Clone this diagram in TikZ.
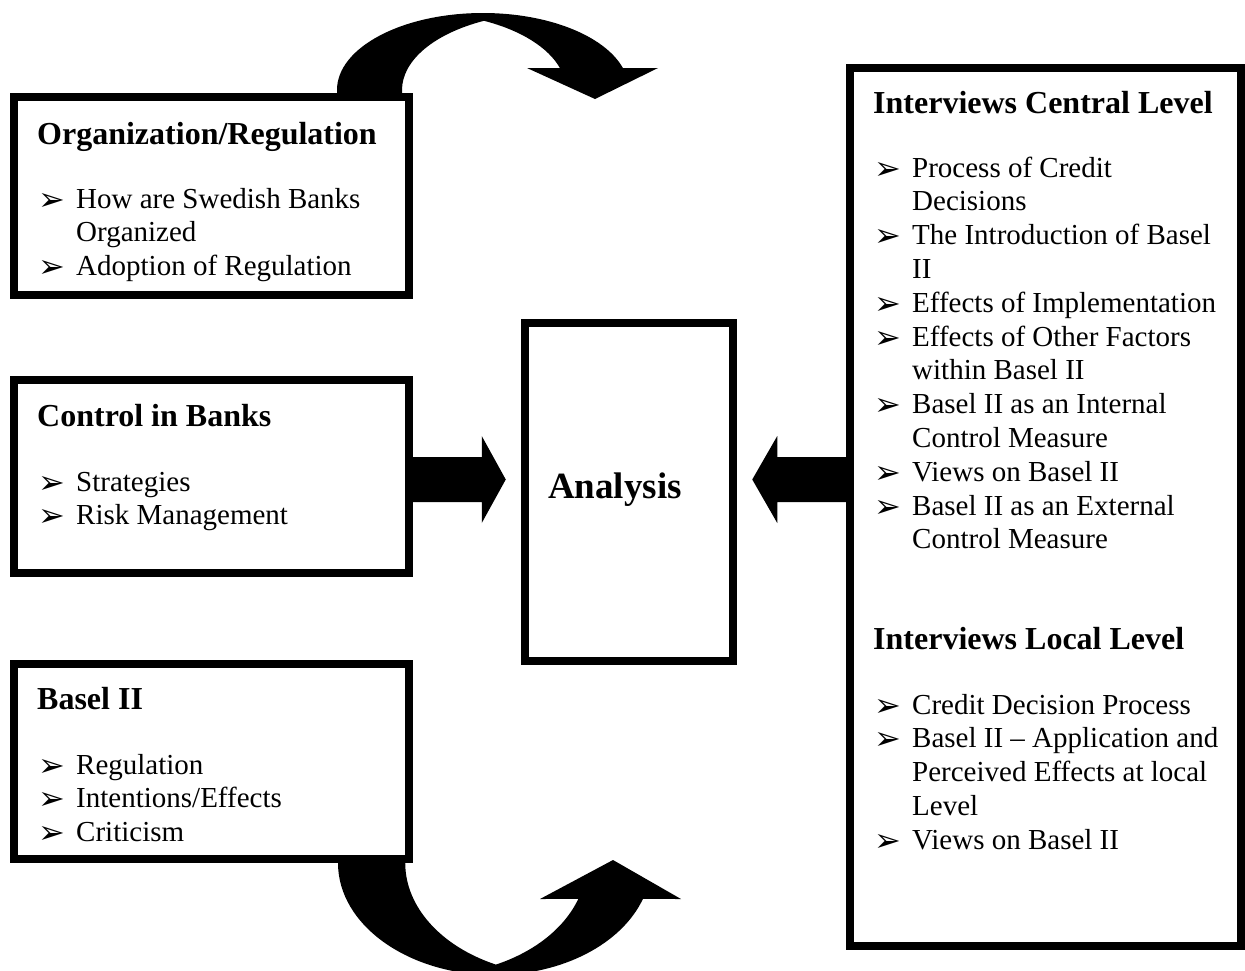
\documentclass[tikz,border=0pt]{standalone}
\usepackage{fontspec}
\setmainfont{Liberation Serif}
\newfontfamily\dejavu{DejaVu Sans}
\usetikzlibrary{calc}
\newcommand{\bulmark}{\raisebox{-2pt}{\dejavu\fontsize{32}{32}\selectfont ➢}}
\newcommand{\bitem}[1]{\makebox[38pt][l]{\bulmark}#1}
\begin{document}
\begin{tikzpicture}[x=1pt,y=-1pt,
  box/.style={draw, line width=7.5pt, inner sep=0pt, rectangle},
  hd/.style={anchor=base west, inner sep=0pt, font=\fontsize{32}{38}\selectfont\bfseries},
  tx/.style={anchor=base west, inner sep=0pt, font=\fontsize{29}{34}\selectfont},
  big/.style={anchor=base west, inner sep=0pt, font=\fontsize{37}{44}\selectfont\bfseries}]
\useasboundingbox (0,0) rectangle (1245,970);
\fill[white] (0,0) rectangle (1245,970);

% boxes
\node[box, minimum width=395pt, minimum height=198pt] (org) at (211.5,196) {};
\node[box, minimum width=395pt, minimum height=193pt] (ctrl) at (211.5,476.5) {};
\node[box, minimum width=395pt, minimum height=195pt] (basel) at (211.5,761.5) {};
\node[box, minimum width=208pt, minimum height=338pt] (ana) at (629,492) {};
\node[box, minimum width=391pt, minimum height=878pt] (intv) at (1045.5,507) {};

% box 1
\node[hd] (orgh) at (37,144) {Organization/Regulation};
\node[tx] (org1) at (38,208) {\bitem{How are Swedish Banks}};
\node[tx] (org1b) at (76,241.8) {Organized};
\node[tx] (org2) at (38,275.6) {\bitem{Adoption of Regulation}};

% box 2
\node[hd] (ctrlh) at (37,426) {Control in Banks};
\node[tx] (ctrl1) at (38,491) {\bitem{Strategies}};
\node[tx] (ctrl2) at (38,524.8) {\bitem{Risk Management}};

% box 3
\node[hd] (baselh) at (37,709) {Basel II};
\node[tx] (basel1) at (38,774) {\bitem{Regulation}};
\node[tx] (basel2) at (38,807.8) {\bitem{Intentions/Effects}};
\node[tx] (basel3) at (38,841.6) {\bitem{Criticism}};

% analysis
\node[big] (anat) at (548,498) {Analysis};

% right box
\node[hd] (ch) at (873,113) {Interviews Central Level};
\node[tx] (c1) at (874,177) {\bitem{Process of Credit}};
\node[tx] (c1b) at (912,210.8) {Decisions};
\node[tx] (c2) at (874,244.6) {\bitem{The Introduction of Basel}};
\node[tx] (c2b) at (912,278.4) {II};
\node[tx] (c3) at (874,312.2) {\bitem{Effects of Implementation}};
\node[tx] (c4) at (874,346) {\bitem{Effects of Other Factors}};
\node[tx] (c4b) at (912,379.8) {within Basel II};
\node[tx] (c5) at (874,413.6) {\bitem{Basel II as an Internal}};
\node[tx] (c5b) at (912,447.4) {Control Measure};
\node[tx] (c6) at (874,481.2) {\bitem{Views on Basel II}};
\node[tx] (c7) at (874,515) {\bitem{Basel II as an External}};
\node[tx] (c7b) at (912,548.8) {Control Measure};
\node[hd] (lh) at (873,649) {Interviews Local Level};
\node[tx] (l1) at (874,714) {\bitem{Credit Decision Process}};
\node[tx] (l2) at (874,747.8) {\bitem{Basel II -- Application and}};
\node[tx] (l2b) at (912,781.6) {Perceived Effects at local};
\node[tx] (l2c) at (912,815.4) {Level};
\node[tx] (l3) at (874,849.2) {\bitem{Views on Basel II}};

% block arrows
\coordinate (a1s) at ($(ctrl.east)+(0,3)$);
\fill (a1s) ++(0,-22.5) -- ++(69,0) -- ++(0,-21) -- ++(24,43.5) -- ++(-24,43.5)
  -- ++(0,-21) -- ++(-69,0) -- cycle;
\coordinate (a2s) at (intv.west |- a1s);
\fill (a2s) ++(0,-22.5) -- ++(-69,0) -- ++(0,-21) -- ++(-25,43.5) -- ++(25,43.5)
  -- ++(0,-21) -- ++(69,0) -- cycle;

% curved arrow on top
\fill (337,97) -- (337,90)
  arc[start angle=180, end angle=343.4, x radius=146, y radius=77]
  -- (658,68) -- (595,99) -- (527,68) -- (559.9,68)
  arc[start angle=343.4, end angle=296, x radius=146, y radius=77]
  arc[start angle=244, end angle=180, x radius=146, y radius=77]
  -- (402,97) -- cycle;

% curved arrow at bottom
\fill (338,856) -- (338,863)
  arc[start angle=180, end angle=18.7, x radius=156.6, y radius=112]
  -- (681,899) -- (613,860) -- (540,899) -- (578.3,898.9)
  arc[start angle=18.7, end angle=65.1, x radius=156.6, y radius=112]
  arc[start angle=114.9, end angle=180, x radius=156.6, y radius=112]
  -- (405.4,856) -- cycle;
\end{tikzpicture}
\end{document}
